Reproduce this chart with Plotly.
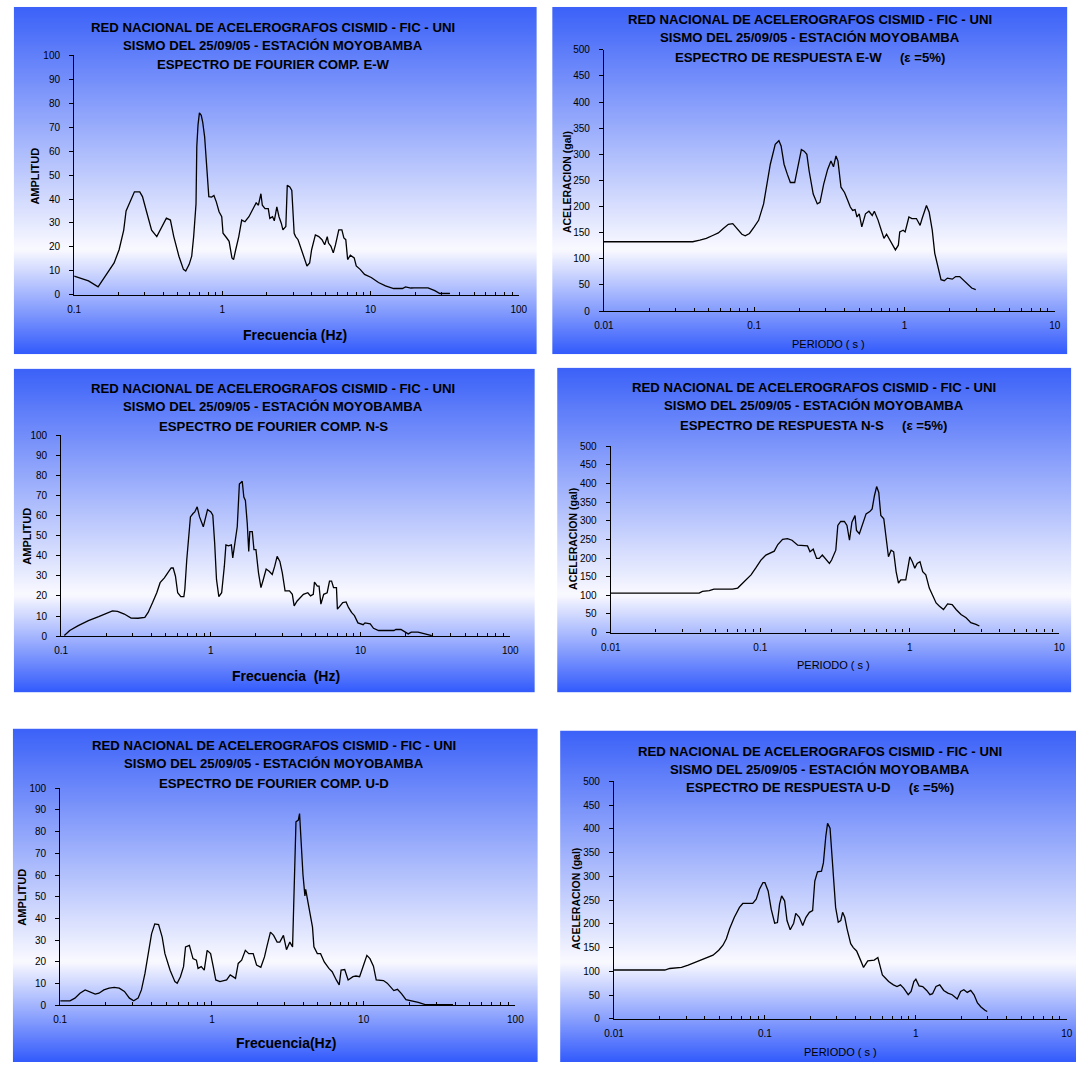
import base64
import struct
import zlib

import plotly.graph_objects as go

# ---------------------------------------------------------------------------
# Data: Fourier amplitude spectra (frequency in Hz) and 5 % damped response
# spectra (period in s, acceleration in gal) for the three components.
# ---------------------------------------------------------------------------
ew_fourier_freq = [
    0.1, 0.125, 0.145, 0.163, 0.186, 0.201, 0.216, 0.224, 0.242, 0.255,
    0.277, 0.289, 0.307, 0.333, 0.361, 0.390, 0.419, 0.446, 0.470, 0.509,
    0.546, 0.566, 0.597, 0.621, 0.640, 0.664, 0.672, 0.685, 0.70, 0.72,
    0.737, 0.759, 0.78, 0.80, 0.81, 0.846, 0.877, 0.91, 0.95, 0.99,
    1.01, 1.07, 1.11, 1.16, 1.19, 1.23, 1.29, 1.35, 1.42, 1.51,
    1.64, 1.69, 1.75, 1.82, 1.86, 1.94, 2.04, 2.09, 2.18, 2.24,
    2.33, 2.41, 2.50, 2.56, 2.68, 2.74, 2.85, 2.94, 3.05, 3.12,
    3.24, 3.41, 3.58, 3.72, 3.88, 4.0, 4.24, 4.47, 4.7, 4.9,
    5.1, 5.2, 5.4, 5.6, 5.8, 6.1, 6.4, 6.6, 6.8, 7.0,
    7.3, 7.75, 8.0, 8.5, 9.1, 10.1, 11.3, 12.6, 14.3, 16.4,
    17.2, 18.7, 19.7, 24.4, 27.1, 29.3, 34.3,
]
ew_fourier_amp = [
    7.8, 5.8, 3.3, 7.8, 13.3, 18.8, 27, 35, 39.5, 43,
    43, 41, 35, 27, 24.3, 28.5, 32, 31.2, 24.3, 16.1,
    10.6, 9.9, 12.7, 16.1, 24.3, 38, 62, 71, 76, 75,
    72, 66, 55, 48, 41, 40.8, 41.5, 38.8, 34.7, 32.6,
    25.7, 23.7, 22.3, 15.4, 14.7, 18.8, 24.3, 31.2, 30.5, 32.6,
    36.7, 38.4, 37.4, 42.2, 37.4, 36, 36, 31.9, 32.6, 30.9,
    36.7, 32.6, 29.8, 27.1, 28.5, 45.7, 45, 43.6, 25.7, 24.3,
    23, 18.8, 14.7, 12, 13.3, 18.8, 25, 24.3, 23, 20.9,
    24.3, 21.6, 20.2, 17.5, 20.9, 27.1, 27.1, 23.7, 23, 14.7,
    16.5, 15.4, 12, 10.6, 8.5, 7.2, 5.1, 3.7, 2.6, 2.6,
    3.3, 2.8, 2.9, 2.9, 1.7, 0.5, 0.5,
]

ew_resp_period = [
    0.01, 0.039, 0.0435, 0.048, 0.0534, 0.0577, 0.0623, 0.0673, 0.072, 0.0766,
    0.0828, 0.0871, 0.093, 0.10, 0.107, 0.1155, 0.1218, 0.128, 0.138, 0.146,
    0.151, 0.158, 0.166, 0.174, 0.186, 0.195, 0.206, 0.215, 0.224, 0.232,
    0.247, 0.263, 0.274, 0.29, 0.308, 0.324, 0.337, 0.35, 0.361, 0.378,
    0.399, 0.42, 0.436, 0.452, 0.469, 0.483, 0.50, 0.52, 0.55, 0.58,
    0.61, 0.63, 0.667, 0.70, 0.73, 0.76, 0.80, 0.84, 0.87, 0.91,
    0.93, 0.98, 1.01, 1.07, 1.12, 1.20, 1.27, 1.31, 1.37, 1.40,
    1.46, 1.53, 1.59, 1.66, 1.75, 1.84, 1.93, 2.08, 2.19, 2.33,
    2.45, 2.62, 2.8, 2.98,
]
ew_resp_acc = [
    132.6, 132.6, 135.7, 138.9, 145, 149.6, 157.8, 166, 167.3, 157.8,
    147, 144, 148.4, 161, 173.6, 205, 243, 281, 319, 326,
    316, 281, 262, 246, 246, 275, 309, 306, 300, 268,
    224, 205, 208, 243, 271, 287, 276, 297, 287, 237,
    227, 211, 199, 192.5, 194, 180, 186, 161, 186, 191,
    183, 191, 174, 155, 139, 147, 136, 126, 117, 126,
    151.5, 154.7, 151.5, 180, 177, 177, 164, 177, 192.5, 202,
    189, 154.7, 110.5, 85, 60, 58, 63, 61, 66, 66,
    60, 50.5, 44, 41,
]

ns_fourier_freq = [
    0.105, 0.114, 0.130, 0.152, 0.178, 0.203, 0.220, 0.238, 0.264, 0.293,
    0.326, 0.362, 0.381, 0.408, 0.435, 0.458, 0.489, 0.515, 0.543, 0.56,
    0.58, 0.60, 0.63, 0.66, 0.67, 0.69, 0.71, 0.73, 0.76, 0.78,
    0.81, 0.84, 0.89, 0.91, 0.95, 1.0, 1.03, 1.06, 1.09, 1.13,
    1.18, 1.23, 1.26, 1.31, 1.37, 1.40, 1.44, 1.50, 1.55, 1.62,
    1.66, 1.70, 1.75, 1.79, 1.82, 1.89, 1.94, 2.0, 2.08, 2.16,
    2.24, 2.34, 2.45, 2.57, 2.67, 2.77, 2.89, 3.0, 3.13, 3.35,
    3.5, 3.6, 3.77, 3.95, 4.15, 4.44, 4.63, 4.83, 4.92, 5.14,
    5.28, 5.43, 5.67, 5.98, 6.2, 6.4, 6.6, 6.9, 7.0, 7.3,
    7.6, 8.0, 8.3, 8.7, 9.1, 9.6, 10.4, 10.7, 11.6, 12.2,
    13.2, 14.7, 16.7, 17.2, 18.6, 20.8, 21.8, 24.2, 26.9, 29.9,
]
ns_fourier_amp = [
    0.3, 2.8, 5.2, 7.7, 9.7, 11.5, 12.6, 12.3, 11, 9,
    8.9, 9.3, 11.8, 16.7, 21.6, 26.6, 29, 31.5, 33.9, 33.9,
    29.8, 21.6, 19.7, 19.7, 23.3, 38, 47.9, 59.3, 61, 61.8,
    64.3, 59.3, 54.4, 57.7, 63, 61.8, 60.2, 46.2, 28.2, 19.7,
    21.6, 34.8, 45.4, 44.9, 45.4, 38.9, 44.6, 54.4, 75.7, 77,
    69.2, 67.5, 56, 42.1, 52, 52, 43, 43, 31.5, 24.1,
    28.2, 33.4, 32.3, 30.7, 34.8, 39.7, 37.2, 31.5, 22.5, 22.5,
    20.8, 15.1, 17.5, 19.2, 20.8, 21.6, 20, 20.8, 26.9, 24.9,
    24.9, 15.9, 20.8, 21.6, 27.4, 27.4, 24.1, 24.1, 13.4, 15.1,
    16.7, 17, 14.3, 11.8, 10.2, 6.6, 5.7, 6.6, 6.1, 3.9,
    2.8, 2.8, 2.8, 3.3, 3.3, 1.1, 2.0, 2.0, 1.1, 0.3,
]

ns_resp_period = [
    0.01, 0.039, 0.041, 0.0456, 0.049, 0.056, 0.0653, 0.0706, 0.0743, 0.0803,
    0.0867, 0.0936, 0.101, 0.109, 0.118, 0.124, 0.131, 0.141, 0.152, 0.163,
    0.178, 0.192, 0.207, 0.215, 0.226, 0.238, 0.248, 0.26, 0.273, 0.29,
    0.30, 0.32, 0.33, 0.345, 0.365, 0.38, 0.395, 0.41, 0.43, 0.44,
    0.46, 0.49, 0.51, 0.54, 0.56, 0.58, 0.60, 0.62, 0.64, 0.67,
    0.69, 0.72, 0.75, 0.78, 0.81, 0.84, 0.87, 0.94, 0.97, 1.0,
    1.04, 1.08, 1.12, 1.17, 1.22, 1.28, 1.35, 1.42, 1.50, 1.58,
    1.68, 1.79, 1.92, 2.04, 2.2, 2.38, 2.56, 2.77, 2.92,
]
ns_resp_acc = [
    106, 106, 110.6, 112.4, 116.8, 116.8, 116.8, 119.5, 128.3, 141.6,
    154.9, 174.3, 194.7, 208, 215, 218.6, 236.3, 250.4, 252.2, 247.8,
    234.5, 234.5, 232.7, 216.8, 223.9, 199, 199, 208, 199, 185.8,
    194.7, 221.2, 287.6, 298.2, 298.2, 287.6, 247.8, 296.5, 314.2, 274.3,
    265.5, 296.5, 318.6, 324.8, 331.9, 367.3, 392, 376, 314.2, 305.3,
    261, 203.5, 221.2, 216.8, 163.7, 132.7, 141.6, 141.6, 172.6, 203.5,
    190.3, 172.6, 185.8, 190.3, 163.7, 154.9, 119.5, 101.8, 79.6, 70.8,
    61.9, 77, 75.2, 61.9, 48.7, 39.8, 26.5, 22.1, 17.7,
]

ud_fourier_freq = [
    0.1, 0.116, 0.125, 0.135, 0.146, 0.155, 0.17, 0.18, 0.194, 0.21,
    0.227, 0.245, 0.265, 0.286, 0.305, 0.326, 0.343, 0.362, 0.381, 0.40,
    0.42, 0.445, 0.47, 0.49, 0.53, 0.57, 0.59, 0.62, 0.65, 0.67,
    0.71, 0.75, 0.79, 0.81, 0.85, 0.89, 0.93, 0.98, 1.02, 1.06,
    1.13, 1.25, 1.32, 1.43, 1.49, 1.57, 1.66, 1.75, 1.87, 1.97,
    2.1, 2.22, 2.3, 2.43, 2.55, 2.69, 2.80, 2.96, 3.1, 3.26,
    3.4, 3.5, 3.58, 3.71, 3.78, 3.86, 3.98, 4.1, 4.15, 4.3,
    4.45, 4.6, 4.7, 4.95, 5.2, 5.5, 5.9, 6.2, 6.6, 6.9,
    7.1, 7.5, 7.9, 8.5, 8.9, 9.4, 9.9, 10.5, 11, 11.6,
    12.1, 12.9, 13.5, 14.3, 15, 15.8, 16.7, 17.8, 19, 21,
    22.9, 25.4, 31.7, 38.8,
]
ud_fourier_amp = [
    2.1, 2.1, 3.3, 5.6, 7.1, 6.4, 5.2, 5.6, 7.1, 7.9,
    8.3, 7.9, 6.4, 3.3, 2.1, 3.3, 7.1, 14.7, 23.8, 32.9,
    37.5, 37.2, 31.4, 23.8, 16.2, 10.9, 10.2, 13.2, 17.8, 26.9,
    27.6, 21.5, 20.8, 17, 17.8, 16.2, 25.3, 23.8, 17.8, 11.7,
    10.9, 11.7, 14, 12.4, 19.3, 20.8, 25.3, 23.8, 23.8, 18.5,
    17.5, 22.3, 26.9, 33.7, 32.2, 29.1, 29.1, 32.2, 25.6, 29.1,
    26.9, 61, 84.5, 85.3, 88.3, 76.9, 60.2, 50.4, 53.4, 47.3,
    40.5, 36, 26.9, 23.8, 23.8, 20, 17, 15.5, 11.7, 9.4,
    16.2, 16.5, 11.7, 13.2, 13.5, 13.2, 17.8, 23, 21.5, 18,
    11.7, 11.7, 11.4, 10.2, 8.6, 6.8, 7.4, 5.3, 2.6, 2.1,
    1.4, 0.3, 0.3, 0.3,
]

ud_resp_period = [
    0.01, 0.0217, 0.0234, 0.028, 0.031, 0.035, 0.040, 0.0453, 0.0494, 0.0527,
    0.0555, 0.0583, 0.0627, 0.0678, 0.0713, 0.077, 0.083, 0.0875, 0.092, 0.097,
    0.1, 0.105, 0.11, 0.116, 0.121, 0.125, 0.129, 0.135, 0.14, 0.147,
    0.155, 0.16, 0.169, 0.178, 0.187, 0.197, 0.207, 0.214, 0.223, 0.237,
    0.244, 0.253, 0.26, 0.27, 0.276, 0.285, 0.294, 0.306, 0.318, 0.327,
    0.338, 0.35, 0.37, 0.385, 0.405, 0.43, 0.45, 0.48, 0.52, 0.53,
    0.56, 0.58, 0.60, 0.63, 0.66, 0.71, 0.75, 0.79, 0.83, 0.89,
    0.93, 0.97, 1.0, 1.05, 1.11, 1.18, 1.24, 1.29, 1.36, 1.44,
    1.53, 1.63, 1.74, 1.88, 1.98, 2.08, 2.19, 2.31, 2.43, 2.56,
    2.7, 2.87, 2.97,
]
ud_resp_acc = [
    102.8, 102.8, 106, 108.3, 113.2, 120, 127, 134, 144.4, 155,
    168.8, 189.6, 213.9, 234.7, 243, 243, 243, 252, 273, 286.8,
    286.8, 269.4, 231, 201.4, 202.8, 241.7, 259, 248.6, 207, 187.5,
    201.4, 222.2, 213.9, 196.5, 213.9, 224.3, 227.8, 290.3, 309.7, 311,
    328.5, 384, 411.8, 401.4, 363.2, 290.3, 234.7, 203.5, 207, 224.3,
    213.9, 189.6, 158.3, 150, 143, 123.6, 108.3, 122.2, 123.6, 123.6,
    129, 109.7, 92.4, 85.4, 78.5, 71.5, 68, 71.5, 64.6, 50.7,
    57.6, 78.5, 83.3, 69.4, 68, 59.7, 50.7, 52.8, 68, 71.5,
    59.7, 54.2, 50.7, 41.7, 57.6, 61.1, 55.6, 59.7, 50.7, 33.3,
    25, 18, 15.3,
]

# Text
header_1 = "RED NACIONAL DE ACELEROGRAFOS CISMID - FIC - UNI"
header_2 = "SISMO DEL 25/09/05 - ESTACIÓN MOYOBAMBA"
fourier_titles = ["ESPECTRO DE FOURIER COMP. E-W",
                  "ESPECTRO DE FOURIER COMP. N-S",
                  "ESPECTRO DE FOURIER COMP. U-D"]
response_titles = ["ESPECTRO DE RESPUESTA E-W",
                   "ESPECTRO DE RESPUESTA N-S",
                   "ESPECTRO DE RESPUESTA U-D"]
damping_label = "(ε =5%)"
freq_labels = ["Frecuencia (Hz)", "Frecuencia  (Hz)", "Frecuencia(Hz)"]
amp_label = "AMPLITUD"
period_label = "PERIODO ( s )"
acc_label = "ACELERACION (gal)"
fourier_ticks = [0.1, 1, 10, 100]
fourier_ticktext = ["0.1", "1", "10", "100"]
response_ticks = [0.01, 0.1, 1, 10]
response_ticktext = ["0.01", "0.1", "1", "10"]

# ---------------------------------------------------------------------------
W, H = 1085, 1068
FONT = "Liberation Sans, Arial, sans-serif"


def fx(px):
    return px / W


def fy(py):
    return 1 - py / H


def gradient_png(height=160, width=4):
    """Vertical blue-white-blue gradient used as the chart-area fill."""
    top = (60, 98, 248)
    mid = (250, 250, 255)
    bot = (52, 92, 252)
    split = 0.70
    rows = []
    for j in range(height):
        t = j / (height - 1)
        if t <= split:
            u = t / split
            c = [round(top[k] + (mid[k] - top[k]) * u) for k in range(3)]
        else:
            u = (t - split) / (1 - split)
            c = [round(mid[k] + (bot[k] - mid[k]) * u) for k in range(3)]
        rows.append(b"\x00" + bytes(c) * width)
    raw = b"".join(rows)

    def chunk(tag, data):
        return (struct.pack(">I", len(data)) + tag + data
                + struct.pack(">I", zlib.crc32(tag + data) & 0xFFFFFFFF))

    png = (b"\x89PNG\r\n\x1a\n"
           + chunk(b"IHDR", struct.pack(">IIBBBBB", width, height, 8, 2, 0, 0, 0))
           + chunk(b"IDAT", zlib.compress(raw, 9))
           + chunk(b"IEND", b""))
    return "data:image/png;base64," + base64.b64encode(png).decode()


GRAD = gradient_png()


def minor_vals(lo_exp, hi_exp):
    vals = []
    for e in range(lo_exp, hi_exp):
        for m in range(2, 10):
            vals.append(round(m * 10 ** e, 6))
    return vals


# Panel geometry in pixels: background box, plot area, title line rows
panels = [
    dict(kind="F", idx=0, box=(4, 1, 536, 352), x=(65.3, 517.9), y=(292, 50),
         tcx=268, trows=(22, 40, 59), xlab=(290, 333), ylab=(26, 172)),
    dict(kind="R", idx=0, box=(552, 1, 1076, 352), x=(604.5, 1063.4), y=(308.5, 44.3),
         tcx=814, trows=(13.5, 32, 52), xlab=(833, 342), ylab=(567, 178)),
    dict(kind="F", idx=1, box=(4, 367, 534, 694), x=(52.1, 509.2), y=(637.3, 434),
         tcx=268, trows=(387, 405, 425), xlab=(281, 678), ylab=(17, 536)),
    dict(kind="R", idx=1, box=(557, 366, 1080, 694), x=(611.5, 1068), y=(633.7, 445.3),
         tcx=818, trows=(385.5, 404, 424), xlab=(838, 666), ylab=(573, 539)),
    dict(kind="F", idx=2, box=(3, 731, 537, 1068), x=(51.1, 514.4), y=(1010.7, 791),
         tcx=269, trows=(748, 766, 786), xlab=(281, 1049), ylab=(12, 901)),
    dict(kind="R", idx=2, box=(560, 733, 1085, 1068), x=(614.8, 1075.6), y=(1024.3, 784.3),
         tcx=824, trows=(753.5, 772, 790), xlab=(845, 1058), ylab=(576, 903)),
]

series = {
    ("F", 0): (ew_fourier_freq, ew_fourier_amp),
    ("F", 1): (ns_fourier_freq, ns_fourier_amp),
    ("F", 2): (ud_fourier_freq, ud_fourier_amp),
    ("R", 0): (ew_resp_period, ew_resp_acc),
    ("R", 1): (ns_resp_period, ns_resp_acc),
    ("R", 2): (ud_resp_period, ud_resp_acc),
}

fig = go.Figure()
layout = dict(
    width=W, height=H,
    margin=dict(l=0, r=0, t=0, b=0),
    paper_bgcolor="white",
    plot_bgcolor="rgba(0,0,0,0)",
    showlegend=False,
    images=[], annotations=[],
    font=dict(family=FONT, color="black"),
)

tick_font = dict(family=FONT, size=10, color="black")
title_font = dict(family=FONT, size=13.2, color="black")

for n, p in enumerate(panels, start=1):
    suffix = "" if n == 1 else str(n)
    xs, ys = series[(p["kind"], p["idx"])]
    fig.add_trace(go.Scatter(
        x=xs, y=ys, mode="lines",
        line=dict(color="black", width=1.3),
        xaxis="x" + suffix, yaxis="y" + suffix,
        hoverinfo="x+y",
    ))

    bx0, by0, bx1, by1 = p["box"]
    layout["images"].append(dict(
        source=GRAD, xref="paper", yref="paper",
        x=fx(bx0), y=fy(by0), sizex=fx(bx1) - fx(bx0), sizey=fy(by0) - fy(by1),
        sizing="stretch", xanchor="left", yanchor="top", layer="below",
    ))

    if p["kind"] == "F":
        xr, tv, tt, yr, ydt = [-1, 2], fourier_ticks, fourier_ticktext, [0, 100], 10
        mv = minor_vals(-1, 2)
    else:
        xr, tv, tt, yr, ydt = [-2, 1], response_ticks, response_ticktext, [0, 500], 50
        mv = minor_vals(-2, 1)

    layout["xaxis" + suffix] = dict(
        type="log", range=xr, domain=[fx(p["x"][0]), fx(p["x"][1])],
        anchor="y" + suffix, tickmode="array", tickvals=tv, ticktext=tt,
        ticks="inside", ticklen=4, tickcolor="black", tickwidth=1,
        minor=dict(tickmode="array", tickvals=mv, ticks="inside", ticklen=3,
                   tickcolor="black", tickwidth=1, showgrid=False),
        showline=True, linecolor="black", linewidth=1.2,
        showgrid=False, zeroline=False, tickfont=tick_font,
        ticklabelstandoff=5,
    )
    layout["yaxis" + suffix] = dict(
        range=yr, dtick=ydt, tick0=0,
        domain=[fy(p["y"][0]), fy(p["y"][1])],
        anchor="x" + suffix,
        ticks="outside", ticklen=4, tickcolor="black", tickwidth=1,
        showline=True, linecolor="black", linewidth=1.2,
        showgrid=False, zeroline=False, tickfont=tick_font,
        ticklabelstandoff=7,
    )

    # three-line heading
    if p["kind"] == "F":
        third = fourier_titles[p["idx"]]
    else:
        third = response_titles[p["idx"]] + "\u00a0" * 5 + damping_label
    for text, row in zip([header_1, header_2, third], p["trows"]):
        layout["annotations"].append(dict(
            text="<b>" + text + "</b>", xref="paper", yref="paper",
            x=fx(p["tcx"]), y=fy(row), xanchor="center", yanchor="middle",
            showarrow=False, font=title_font,
        ))

    # axis titles
    if p["kind"] == "F":
        xt = "<b>" + freq_labels[p["idx"]] + "</b>"
        xf = dict(family=FONT, size=14, color="black")
        yt = "<b>" + amp_label + "</b>"
        ysz = 11
    else:
        xt = period_label
        xf = dict(family=FONT, size=11, color="black")
        yt = "<b>" + acc_label + "</b>"
        ysz = 10.5
    layout["annotations"].append(dict(
        text=xt, xref="paper", yref="paper", x=fx(p["xlab"][0]), y=fy(p["xlab"][1]),
        xanchor="center", yanchor="middle", showarrow=False, font=xf,
    ))
    layout["annotations"].append(dict(
        text=yt, xref="paper", yref="paper", x=fx(p["ylab"][0]), y=fy(p["ylab"][1]),
        xanchor="center", yanchor="middle", showarrow=False, textangle=-90,
        font=dict(family=FONT, size=ysz, color="black"),
    ))

fig.update_layout(**layout)
fig.write_html("out.html")
